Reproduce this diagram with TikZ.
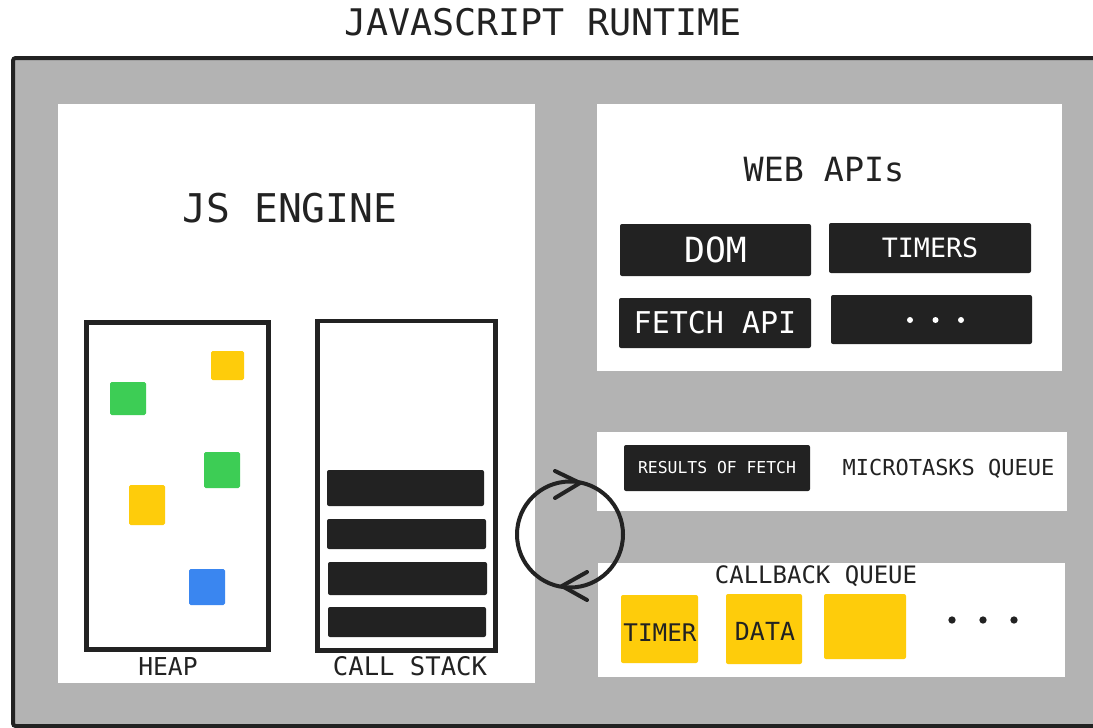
\documentclass[tikz,border=0pt]{standalone}
\usepackage{fontspec}
\usetikzlibrary{fit}
\newfontfamily\mono{DejaVu Sans Mono}
\definecolor{framegray}{HTML}{B3B3B3}
\definecolor{ink}{HTML}{222222}
\definecolor{ylw}{HTML}{FECC0B}
\definecolor{grn}{HTML}{3DCD55}
\definecolor{blu}{HTML}{3A86F0}
\begin{document}
\begin{tikzpicture}[x=0.75pt,y=-0.75pt,
  panel/.style={fill=white, draw=none, inner sep=0pt},
  darkbox/.style={fill=ink, rounded corners=1.5pt, inner sep=0pt, text=white},
  ybox/.style={fill=ylw, rounded corners=1.5pt, inner sep=0pt, text=ink},
  chip/.style={rounded corners=1.2pt, inner sep=0pt},
  bar/.style={fill=ink, rounded corners=1.5pt, inner sep=0pt},
  memory/.style={draw=ink, line width=3.6pt, inner sep=0pt},
  lbl/.style={text=ink, inner sep=0pt},
  dot/.style={circle, inner sep=0pt, minimum size=5pt}
]
\useasboundingbox (0,0) rectangle (1093,728);
\clip (0,0) rectangle (1093,728);
% title
\node[lbl, font=\mono\fontsize{27.5}{30}\selectfont] (title) at (543,22) {JAVASCRIPT RUNTIME};
% outer frame
\draw[draw=ink, line width=3pt, fill=framegray, rounded corners=2pt] (13,58) rectangle (1120,726);
% panels
\node[panel, fit={(58,104) (535,683)}] (engine) {};
\node[panel, fit={(597,104) (1062,371)}] (webapis) {};
\node[panel, fit={(597,432) (1067,511)}] (micro) {};
\node[panel, fit={(598,563) (1065,677)}] (callback) {};
% JS engine
\node[lbl, font=\mono\fontsize{29.7}{32}\selectfont] (enginelbl) at (290,208) {JS ENGINE};
\node[memory, fit={(86.5,322.5) (268.5,649.5)}] (heap) {};
\node[memory, fit={(317.5,321) (495.5,650.5)}] (stack) {};
\node[lbl, font=\mono\fontsize{18.5}{20}\selectfont] (heaplbl) at (168,667) {HEAP};
\node[lbl, font=\mono\fontsize{19.2}{21}\selectfont] (stacklbl) at (410,666) {CALL STACK};
% heap objects
\node[chip, fill=grn, fit={(110,382) (146,415)}] (h1) {};
\node[chip, fill=ylw, fit={(211,351) (244,380)}] (h2) {};
\node[chip, fill=grn, fit={(204,452) (240,488)}] (h3) {};
\node[chip, fill=ylw, fit={(129,485) (165,525)}] (h4) {};
\node[chip, fill=blu, fit={(189,569) (225,605)}] (h5) {};
% stack frames
\node[bar, fit={(327,470) (484,506)}] (s1) {};
\node[bar, fit={(327,519) (486,549)}] (s2) {};
\node[bar, fit={(328,562) (487,595)}] (s3) {};
\node[bar, fit={(328,607) (486,637)}] (s4) {};
% Web APIs
\node[lbl, font=\mono\fontsize{25}{28}\selectfont] (weblbl) at (824,170) {WEB APIs};
\node[darkbox, fit={(620,224) (811,276)}] (dom) {};
\node[text=white, inner sep=0pt, font=\mono\fontsize{26}{28}\selectfont] at (dom.center) {DOM};
\node[darkbox, fit={(829,223) (1031,273)}] (timers) {};
\node[text=white, inner sep=0pt, font=\mono\fontsize{20}{22}\selectfont] at (timers.center) {TIMERS};
\node[darkbox, fit={(619,298) (811,348)}] (fetch) {};
\node[text=white, inner sep=0pt, font=\mono\fontsize{22.5}{24}\selectfont] at (fetch.center) {FETCH API};
\node[darkbox, fit={(831,295) (1032,344)}] (more) {};
\node[dot, fill=white, minimum size=4.5pt] (md1) at (910,320) {};
\node[dot, fill=white, minimum size=4.5pt] (md2) at (935.5,320) {};
\node[dot, fill=white, minimum size=4.5pt] (md3) at (961,320) {};
% microtasks
\node[darkbox, fit={(624,445) (810,491)}] (results) {};
\node[text=white, inner sep=0pt, font=\mono\fontsize{12.3}{14}\selectfont] at (results.center) {RESULTS OF FETCH};
\node[lbl, font=\mono\fontsize{16.5}{18}\selectfont] (microlbl) at (948.5,469) {MICROTASKS QUEUE};
% callback queue
\node[lbl, font=\mono\fontsize{18}{20}\selectfont] (cblbl) at (816,576) {CALLBACK QUEUE};
\node[ybox, fit={(621,595) (698,663)}] (timer) {};
\node[text=ink, inner sep=0pt, font=\mono\fontsize{18.2}{20}\selectfont] at (660,633) {TIMER};
\node[ybox, fit={(726,594) (802,664)}] (data) {};
\node[text=ink, inner sep=0pt, font=\mono\fontsize{18.7}{20}\selectfont] at (765,631) {DATA};
\node[ybox, fit={(824,594) (906,659)}] (empty) {};
\node[dot, fill=ink, minimum size=5.5pt] (cd1) at (952,620) {};
\node[dot, fill=ink, minimum size=5.5pt] (cd2) at (983,620) {};
\node[dot, fill=ink, minimum size=5.5pt] (cd3) at (1014,620) {};
% event loop
\node[circle, draw=ink, line width=3pt, minimum size=79.5pt, inner sep=0pt] (loop) at (570,534.5) {};
\draw[ink, line width=3pt, line cap=round, line join=miter] (555,471) -- (580,483) -- (555,498);
\draw[ink, line width=3pt, line cap=round, line join=miter] (587,572) -- (562,586) -- (587,600);
\end{tikzpicture}
\end{document}
